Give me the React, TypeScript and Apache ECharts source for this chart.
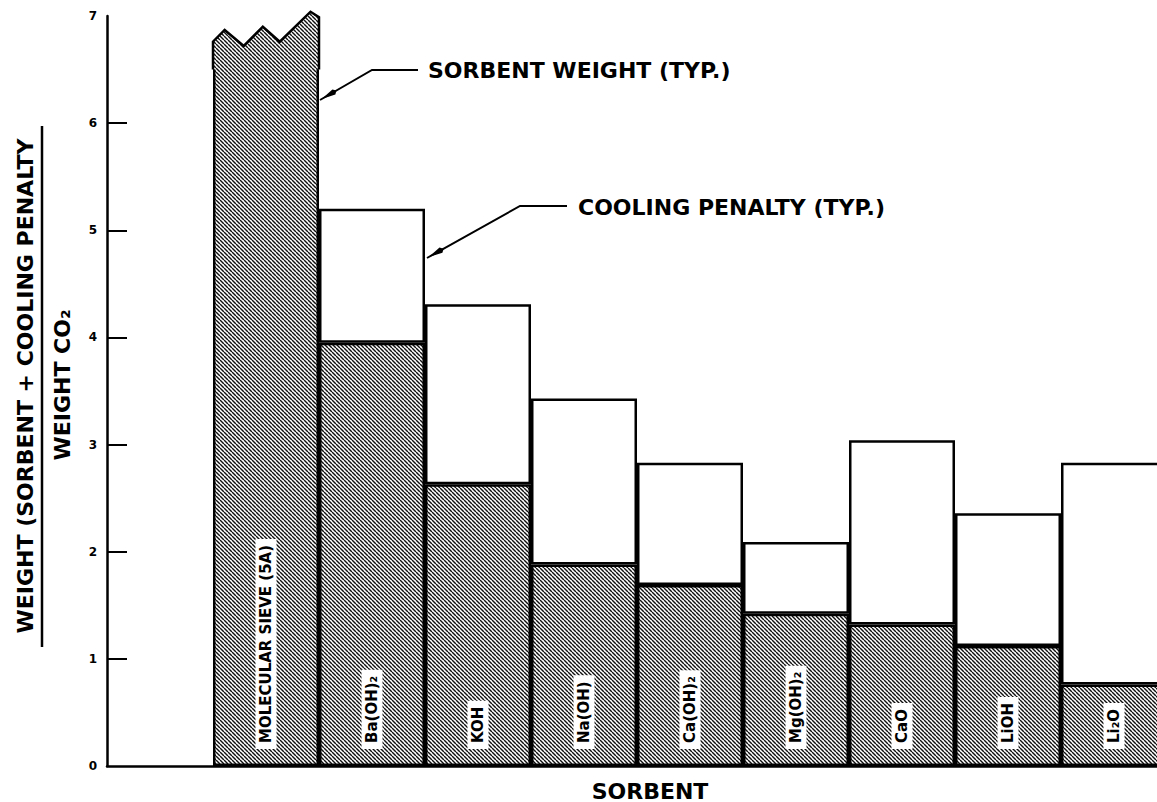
import React, { useEffect, useRef } from 'react';
import * as echarts from 'echarts';

// ---- data ----
const categories = ['', 'MOLECULAR SIEVE (5A)', 'Ba(OH)₂', 'KOH', 'Na(OH)', 'Ca(OH)₂', 'Mg(OH)₂', 'CaO', 'LiOH', 'Li₂O'];
const sorbentWeight: (number | null)[] = [null, 6.72, 3.95, 2.63, 1.88, 1.69, 1.42, 1.32, 1.12, 0.76];
const totalWeight: (number | null)[] = [null, null, 5.2, 4.31, 3.43, 2.83, 2.09, 3.04, 2.36, 2.83];
const yTickValues = [0, 1, 2, 3, 4, 5, 6, 7];
// molecular sieve bar is broken off at the top (zig-zag)
const sieveIndex = 1;
const sieveBreakBase = 6.5;
const sieveTopFrac = [0, 0.11, 0.29, 0.47, 0.63, 0.92, 1];
const sieveTopValues = [6.76, 6.87, 6.72, 6.9, 6.76, 7.04, 6.99];

const FONT = 'DejaVu Sans';

function makeHatch(): HTMLCanvasElement {
  const s = 4;
  const c = document.createElement('canvas');
  c.width = s;
  c.height = s;
  const ctx = c.getContext('2d')!;
  ctx.fillStyle = '#fff';
  ctx.fillRect(0, 0, s, s);
  ctx.strokeStyle = '#111';
  ctx.lineWidth = 1.45;
  for (const k of [-s, 0, s]) {
    ctx.beginPath();
    ctx.moveTo(k, 0);
    ctx.lineTo(k + s, s);
    ctx.stroke();
  }
  return c;
}

export default function App() {
  const ref = useRef<HTMLDivElement>(null);
  useEffect(() => {
    if (!ref.current) return;
    const chart = echarts.init(ref.current, undefined, { renderer: 'svg' });
    const hatchCanvas = makeHatch();
    const hatch: any = { image: hatchCanvas, repeat: 'repeat', imageWidth: hatchCanvas.width, imageHeight: hatchCanvas.height };

    const sorbentData = sorbentWeight.map((v) => (v == null ? '-' : v));
    const coolingData = totalWeight.map((t, i) => {
      const s = sorbentWeight[i];
      return t == null || s == null ? '-' : +(t - s).toFixed(2);
    });

    const arrowHead = (tip: number[], toward: number[], start: number, len: number, half: number) => {
      const dx = toward[0] - tip[0];
      const dy = toward[1] - tip[1];
      const d = Math.hypot(dx, dy);
      const ux = dx / d, uy = dy / d;
      const px = -uy, py = ux;
      const ax = tip[0] + ux * start, ay = tip[1] + uy * start;
      const bx = ax + ux * len, by = ay + uy * len;
      return [[ax, ay], [bx + px * half, by + py * half], [bx + ux * 3, by + uy * 3], [bx - px * half, by - py * half]];
    };

    const sorbTip = [320, 100], sorbMid = [372, 70], sorbEnd = [418, 70];
    const coolTip = [427, 258], coolMid = [520, 206], coolEnd = [567, 206];

    chart.setOption({
      animation: false,
      backgroundColor: '#fff',
      grid: { left: 107, top: 16, width: 1060, height: 750, containLabel: false, outerBoundsMode: 'none' },
      xAxis: {
        type: 'category',
        data: categories,
        axisLine: { lineStyle: { color: '#000', width: 2.5 } },
        axisTick: { show: false },
        axisLabel: { show: false },
        name: 'SORBENT',
        nameLocation: 'middle',
        nameGap: 14,
        nameTextStyle: { fontFamily: FONT, fontWeight: 'bold', fontSize: 22, color: '#000', verticalAlign: 'top', padding: [0, 0, 0, 26] },
      },
      yAxis: {
        type: 'value',
        min: 0,
        max: 7,
        interval: 1,
        splitLine: { show: false },
        axisLine: { show: true, lineStyle: { color: '#000', width: 2.5 } },
        axisTick: { show: true, inside: true, length: 20, lineStyle: { color: '#000', width: 2 }, customValues: yTickValues.slice(1, -1) },
        axisLabel: { color: '#000', fontFamily: FONT, fontWeight: 'bold', fontSize: 12, margin: 10 },
      },
      series: [
        {
          name: 'Sorbent weight',
          type: 'bar',
          stack: 'total',
          barCategoryGap: 0,
          data: sorbentData,
          itemStyle: { color: hatch, borderColor: '#000', borderWidth: 2.5 },
          label: {
            show: true,
            position: 'insideBottom',
            distance: 17,
            rotate: 90,
            align: 'left',
            verticalAlign: 'middle',
            formatter: (p: any) => p.name,
            backgroundColor: '#fff',
            padding: [3, 6, 3, 6],
            color: '#000',
            fontFamily: FONT,
            fontWeight: 'bold',
            fontSize: 15,
          },
          z: 2,
        },
        {
          name: 'Cooling penalty',
          type: 'bar',
          stack: 'total',
          barCategoryGap: 0,
          data: coolingData,
          itemStyle: { color: '#fff', borderColor: '#000', borderWidth: 2.5 },
          z: 2,
        },
        {
          name: 'Sieve break',
          type: 'custom',
          data: [[sieveIndex, sieveBreakBase]],
          z: 3,
          renderItem: (params: any, api: any) => {
            const idx = api.value(0);
            const bw = api.size([1, 0])[0];
            const left = api.coord([idx, 0])[0] - bw / 2;
            const base = api.coord([idx, api.value(1)])[1];
            const top = sieveTopFrac.map((f, i) => [left + f * bw, api.coord([idx, sieveTopValues[i]])[1]]);
            const pts = [[left, base], ...top, [left + bw, base]];
            return {
              type: 'group',
              children: [
                { type: 'polygon', shape: { points: pts }, style: { fill: hatch, stroke: null } },
                { type: 'polyline', shape: { points: pts }, style: { fill: null, stroke: '#000', lineWidth: 2.5, lineJoin: 'miter', lineCap: 'butt' } },
              ],
            };
          },
        },
      ],
      graphic: [
        {
          type: 'text',
          x: 25,
          y: 386,
          rotation: Math.PI / 2,
          style: {
            text: 'WEIGHT (SORBENT + COOLING PENALTY',
            fontFamily: FONT, fontWeight: 'bold', fontSize: 22, fill: '#000',
            align: 'center', verticalAlign: 'middle', textAlign: 'center', textVerticalAlign: 'middle',
          },
        },
        { type: 'line', shape: { x1: 42, y1: 126, x2: 42, y2: 647 }, style: { stroke: '#000', lineWidth: 2.5 } },
        {
          type: 'text',
          x: 62,
          y: 385,
          rotation: Math.PI / 2,
          style: {
            text: 'WEIGHT CO₂',
            fontFamily: FONT, fontWeight: 'bold', fontSize: 22, fill: '#000',
            align: 'center', verticalAlign: 'middle', textAlign: 'center', textVerticalAlign: 'middle',
          },
        },
        { type: 'polyline', shape: { points: [sorbTip, sorbMid, sorbEnd] }, style: { stroke: '#000', lineWidth: 2, fill: null } },
        { type: 'polygon', shape: { points: arrowHead(sorbTip, sorbMid, 2, 14, 3) }, style: { fill: '#000' } },
        {
          type: 'text', x: 428, y: 70,
          style: { text: 'SORBENT WEIGHT (TYP.)', fontFamily: FONT, fontWeight: 'bold', fontSize: 22, fill: '#000', align: 'left', verticalAlign: 'middle', textAlign: 'left', textVerticalAlign: 'middle' },
        },
        { type: 'polyline', shape: { points: [coolTip, coolMid, coolEnd] }, style: { stroke: '#000', lineWidth: 2, fill: null } },
        { type: 'polygon', shape: { points: arrowHead(coolTip, coolMid, 2, 14, 3) }, style: { fill: '#000' } },
        {
          type: 'text', x: 578, y: 207,
          style: { text: 'COOLING PENALTY (TYP.)', fontFamily: FONT, fontWeight: 'bold', fontSize: 22, fill: '#000', align: 'left', verticalAlign: 'middle', textAlign: 'left', textVerticalAlign: 'middle' },
        },
      ],
    });
    return () => chart.dispose();
  }, []);
  return <div ref={ref} style={{ position: 'absolute', left: 0, top: 0, width: 1157, height: 802, overflow: 'hidden' }} />;
}
